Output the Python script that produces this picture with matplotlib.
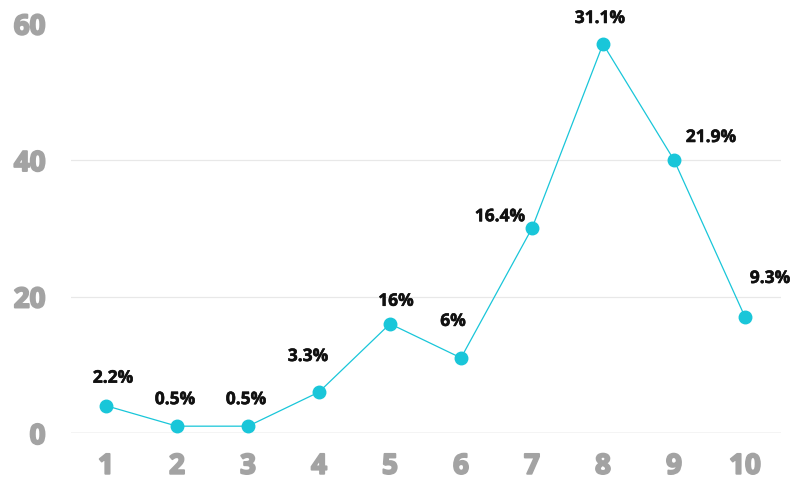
import matplotlib
matplotlib.use("Agg")
import matplotlib.pyplot as plt
import matplotlib.patheffects as pe

# Data
categories = [1, 2, 3, 4, 5, 6, 7, 8, 9, 10]
counts = [4, 1, 1, 6, 16, 11, 30, 57, 40, 17]
pct_labels = ["2.2%", "0.5%", "0.5%", "3.3%", "16%", "6%", "16.4%", "31.1%", "21.9%", "9.3%"]
y_ticks = [0, 20, 40, 60]

# Label placement offsets (pixels) relative to each point
label_offsets = [(7, 28), (-2, 27), (-2, 27), (-11, 36), (6, 23), (-8, 37),
                 (-32, 12), (-3, 26), (37, 23), (25, 39)]

line_color = "#19c6d9"
tick_color = "#a3a3a3"
family = ["Open Sans", "DejaVu Sans"]

fig = plt.figure(figsize=(7.91, 4.81), dpi=100)
W, H = 791, 481
ax = fig.add_axes([70.5 / W, (H - 434) / H, 710 / W, (434 - 24.5) / H])

ax.set_xlim(0.5, 10.5)
ax.set_ylim(0, 60)

for y in y_ticks[1:-1]:
    ax.axhline(y, color="#e8e8e8", lw=0.9, zorder=0)
ax.axhline(0, color="#c8c8c8", lw=1.0, zorder=0)

ax.plot(categories, counts, color=line_color, lw=0.9, zorder=2,
        marker="o", markersize=9, markerfacecolor=line_color,
        markeredgecolor=line_color)

for x, y, lab, (dx, dy) in zip(categories, counts, pct_labels, label_offsets):
    ax.annotate(lab, (x, y), xytext=(dx * 0.72, dy * 0.72), textcoords="offset points",
                ha="center", va="center", fontsize=12.5, fontweight="bold",
                family=family, color="#111111", zorder=3,
                path_effects=[pe.withStroke(linewidth=0.4, foreground="#111111")])

ax.set_xticks(categories)
ax.set_xticklabels([str(c) for c in categories])
ax.set_yticks(y_ticks)
ax.set_yticklabels([str(v) for v in y_ticks])
for lab in ax.get_xticklabels() + ax.get_yticklabels():
    lab.set_fontfamily(family)
    lab.set_fontweight("bold")
    lab.set_fontsize(20)
    lab.set_color(tick_color)
    lab.set_path_effects([pe.withStroke(linewidth=1.4, foreground=tick_color)])
ax.tick_params(axis="both", length=0)
ax.tick_params(axis="x", pad=13.5)
ax.tick_params(axis="y", pad=18)

for s in ax.spines.values():
    s.set_visible(False)

fig.savefig("out.png", dpi=100, facecolor="white")
